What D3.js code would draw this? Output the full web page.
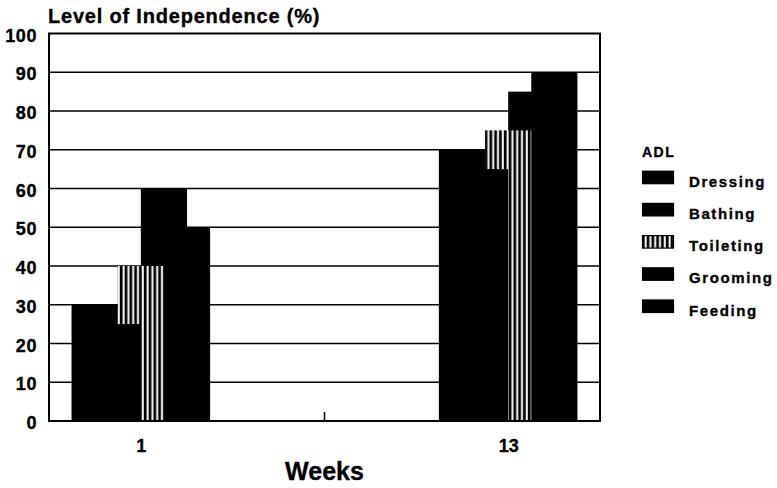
<!DOCTYPE html>
<html>
<head>
<meta charset="utf-8">
<script src="https://cdn.jsdelivr.net/npm/d3@7"></script>
<style>
  html, body { margin: 0; padding: 0; background: #fff; }
  svg { display: block; }
  text { font-family: "Liberation Sans", Arial, sans-serif; font-weight: bold; fill: #000; stroke: #000; stroke-width: 0.35px; }
</style>
</head>
<body>
<svg id="chart" width="777" height="488"></svg>
<script>
// ---- data ----
const categories = ["1", "13"];
const seriesNames = ["Dressing", "Bathing", "Toileting", "Grooming", "Feeding"];
const dressing = [30, 70];
const bathing = [25, 65];
const toileting = [40, 75];
const grooming = [60, 85];
const feeding = [50, 90];
const yTicks = [0, 10, 20, 30, 40, 50, 60, 70, 80, 90, 100];
const yTitle = "Level of Independence (%)";
const xTitle = "Weeks";
const legendTitle = "ADL";

const seriesValues = [dressing, bathing, toileting, grooming, feeding];
const seriesFill = ["solid", "solid", "stripes", "solid", "solid"];

// ---- layout ----
const plot = { left: 49, right: 600, top: 33.5, bottom: 421 };
const svg = d3.select("#chart");

const defs = svg.append("defs");
const pat = defs.append("pattern")
  .attr("id", "stripes")
  .attr("patternUnits", "userSpaceOnUse")
  .attr("width", 4.8).attr("height", 10);
pat.append("rect").attr("width", 4.8).attr("height", 10).attr("fill", "#000");
pat.append("rect").attr("x", 2.6).attr("width", 2.0).attr("height", 10).attr("fill", "#fff");

const fillFor = f => f === "stripes" ? "url(#stripes)" : "#000";

const y = d3.scaleLinear().domain([0, 100]).range([plot.bottom, plot.top]);
const x = d3.scalePoint().domain(categories).range([plot.left, plot.right]).padding(0.25);
const step = 23.1;
const barW = step * 2;
const off = d3.scalePoint().domain(seriesNames).range([-2 * step, 2 * step]);

// gridlines
svg.append("g").selectAll("line").data(yTicks.filter(t => t > 0 && t < 100)).join("line")
  .attr("x1", plot.left).attr("x2", plot.right)
  .attr("y1", d => y(d)).attr("y2", d => y(d))
  .attr("stroke", "#000").attr("stroke-width", 1.3);

// bars: drawn back (Feeding) to front (Dressing)
const barData = [];
seriesNames.forEach((s, i) => {
  categories.forEach((c, j) => {
    barData.push({ s, i, c, v: seriesValues[i][j], fill: seriesFill[i] });
  });
});
barData.sort((a, b) => b.i - a.i);
svg.append("g").selectAll("rect").data(barData).join("rect")
  .attr("x", d => x(d.c) + off(d.s) - barW / 2)
  .attr("width", barW)
  .attr("y", d => y(d.v))
  .attr("height", d => y(0) - y(d.v))
  .attr("fill", d => fillFor(d.fill));

// frame
svg.append("rect")
  .attr("x", plot.left).attr("y", plot.top)
  .attr("width", plot.right - plot.left).attr("height", plot.bottom - plot.top)
  .attr("fill", "none").attr("stroke", "#000").attr("stroke-width", 2);

// y axis labels
const yAxis = d3.axisLeft(y).tickValues(yTicks).tickSize(0).tickPadding(12);
const gy = svg.append("g").attr("transform", `translate(${plot.left},0)`).call(yAxis);
gy.select(".domain").remove();
gy.selectAll("text")
  .style("font-family", "'Liberation Sans', Arial, sans-serif")
  .style("font-weight", "bold")
  .style("font-size", "18px")
  .style("letter-spacing", "0.6px")
  .attr("dy", "0.42em");

// x axis labels
const xAxis = d3.axisBottom(x).tickSize(0).tickPadding(18);
const gx = svg.append("g").attr("transform", `translate(0,${plot.bottom})`).call(xAxis);
gx.select(".domain").remove();
gx.selectAll("text")
  .style("font-family", "'Liberation Sans', Arial, sans-serif")
  .style("font-weight", "bold")
  .style("font-size", "18px");

// separator tick between categories
const mid = (x(categories[0]) + x(categories[1])) / 2;
svg.append("line")
  .attr("x1", mid).attr("x2", mid)
  .attr("y1", plot.bottom).attr("y2", plot.bottom - 9)
  .attr("stroke", "#000").attr("stroke-width", 1.5);

// titles
svg.append("text").attr("x", 48).attr("y", 23)
  .style("font-size", "20px").style("letter-spacing", "0.8px")
  .text(yTitle);
svg.append("text").attr("x", (plot.left + plot.right) / 2).attr("y", 480)
  .attr("text-anchor", "middle")
  .style("font-size", "25px")
  .text(xTitle);

// legend
const lg = svg.append("g").attr("transform", "translate(642,0)");
lg.append("text").attr("x", 0).attr("y", 157)
  .style("font-size", "14px").style("letter-spacing", "1.5px")
  .text(legendTitle);
const rows = lg.selectAll("g.row").data(seriesNames).join("g")
  .attr("class", "row")
  .attr("transform", (d, i) => `translate(0,${170.7 + i * 32.2})`);
rows.append("rect")
  .attr("x", 0.5).attr("y", 0.5).attr("width", 31).attr("height", 12.5)
  .attr("fill", (d, i) => fillFor(seriesFill[i]))
  .attr("stroke", "#000").attr("stroke-width", 1.2);
rows.append("text").attr("x", 47).attr("y", 16)
  .style("font-size", "15px").style("letter-spacing", "1.6px")
  .text(d => d);
</script>
</body>
</html>
